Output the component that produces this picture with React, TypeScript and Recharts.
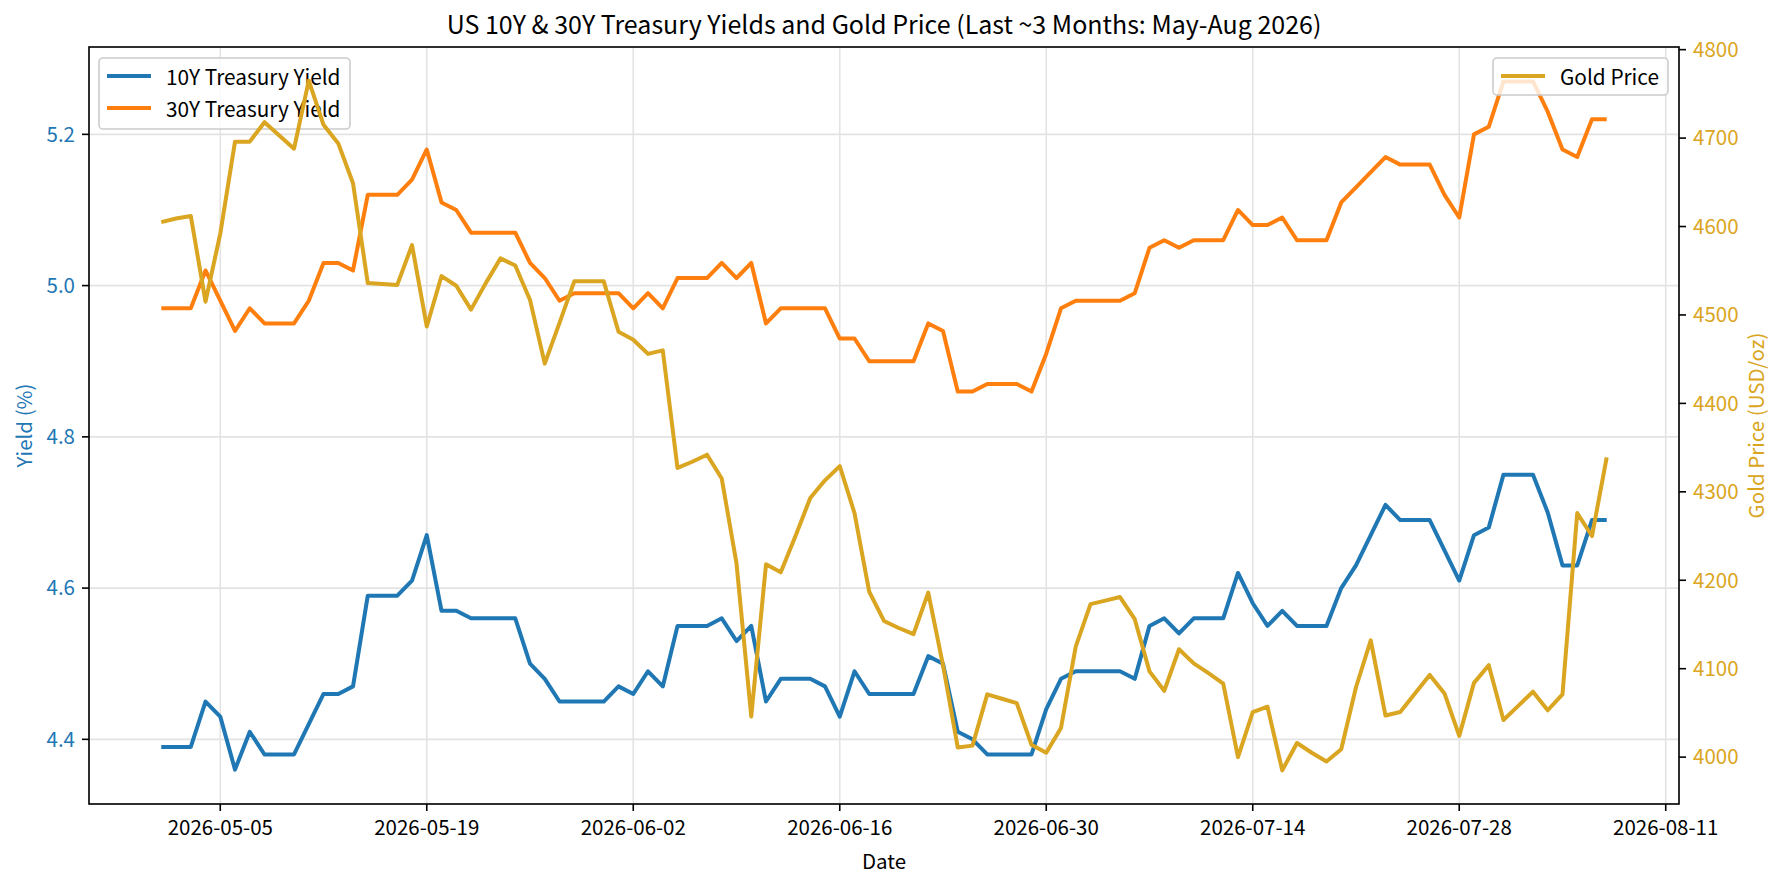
import React from 'react';
import { LineChart, Line, XAxis, YAxis, CartesianGrid } from 'recharts';

const dates = [
  '2026-05-01', '2026-05-02', '2026-05-03', '2026-05-04', '2026-05-05', '2026-05-06', '2026-05-07',
  '2026-05-08', '2026-05-09', '2026-05-10', '2026-05-11', '2026-05-12', '2026-05-13', '2026-05-14',
  '2026-05-15', '2026-05-16', '2026-05-17', '2026-05-18', '2026-05-19', '2026-05-20', '2026-05-21',
  '2026-05-22', '2026-05-23', '2026-05-24', '2026-05-25', '2026-05-26', '2026-05-27', '2026-05-28',
  '2026-05-29', '2026-05-30', '2026-05-31', '2026-06-01', '2026-06-02', '2026-06-03', '2026-06-04',
  '2026-06-05', '2026-06-06', '2026-06-07', '2026-06-08', '2026-06-09', '2026-06-10', '2026-06-11',
  '2026-06-12', '2026-06-13', '2026-06-14', '2026-06-15', '2026-06-16', '2026-06-17', '2026-06-18',
  '2026-06-19', '2026-06-20', '2026-06-21', '2026-06-22', '2026-06-23', '2026-06-24', '2026-06-25',
  '2026-06-26', '2026-06-27', '2026-06-28', '2026-06-29', '2026-06-30', '2026-07-01', '2026-07-02',
  '2026-07-03', '2026-07-04', '2026-07-05', '2026-07-06', '2026-07-07', '2026-07-08', '2026-07-09',
  '2026-07-10', '2026-07-11', '2026-07-12', '2026-07-13', '2026-07-14', '2026-07-15', '2026-07-16',
  '2026-07-17', '2026-07-18', '2026-07-19', '2026-07-20', '2026-07-21', '2026-07-22', '2026-07-23',
  '2026-07-24', '2026-07-25', '2026-07-26', '2026-07-27', '2026-07-28', '2026-07-29', '2026-07-30',
  '2026-07-31', '2026-08-01', '2026-08-02', '2026-08-03', '2026-08-04', '2026-08-05', '2026-08-06',
  '2026-08-07',
];

const yield10Y = [
  4.39, 4.39, 4.39, 4.45, 4.43, 4.36, 4.41,
  4.38, 4.38, 4.38, 4.42, 4.46, 4.46, 4.47,
  4.59, 4.59, 4.59, 4.61, 4.67, 4.57, 4.57,
  4.56, 4.56, 4.56, 4.56, 4.50, 4.48, 4.45,
  4.45, 4.45, 4.45, 4.47, 4.46, 4.49, 4.47,
  4.55, 4.55, 4.55, 4.56, 4.53, 4.55, 4.45,
  4.48, 4.48, 4.48, 4.47, 4.43, 4.49, 4.46,
  4.46, 4.46, 4.46, 4.51, 4.50, 4.41, 4.40,
  4.38, 4.38, 4.38, 4.38, 4.44, 4.48, 4.49,
  4.49, 4.49, 4.49, 4.48, 4.55, 4.56, 4.54,
  4.56, 4.56, 4.56, 4.62, 4.58, 4.55, 4.57,
  4.55, 4.55, 4.55, 4.60, 4.63, 4.67, 4.71,
  4.69, 4.69, 4.69, 4.65, 4.61, 4.67, 4.68,
  4.75, 4.75, 4.75, 4.70, 4.63, 4.63, 4.69,
  4.69,
];

const yield30Y = [
  4.97, 4.97, 4.97, 5.02, 4.98, 4.94, 4.97,
  4.95, 4.95, 4.95, 4.98, 5.03, 5.03, 5.02,
  5.12, 5.12, 5.12, 5.14, 5.18, 5.11, 5.10,
  5.07, 5.07, 5.07, 5.07, 5.03, 5.01, 4.98,
  4.99, 4.99, 4.99, 4.99, 4.97, 4.99, 4.97,
  5.01, 5.01, 5.01, 5.03, 5.01, 5.03, 4.95,
  4.97, 4.97, 4.97, 4.97, 4.93, 4.93, 4.90,
  4.90, 4.90, 4.90, 4.95, 4.94, 4.86, 4.86,
  4.87, 4.87, 4.87, 4.86, 4.91, 4.97, 4.98,
  4.98, 4.98, 4.98, 4.99, 5.05, 5.06, 5.05,
  5.06, 5.06, 5.06, 5.10, 5.08, 5.08, 5.09,
  5.06, 5.06, 5.06, 5.11, 5.13, 5.15, 5.17,
  5.16, 5.16, 5.16, 5.12, 5.09, 5.20, 5.21,
  5.27, 5.27, 5.27, 5.23, 5.18, 5.17, 5.22,
  5.22,
];

const goldPrice = [
  4605, 4609, 4612, 4515, 4592, 4696, 4696,
  4718, 4703, 4688, 4765, 4715, 4694, 4649,
  4536, 4535, 4534, 4579, 4487, 4544, 4533,
  4506, 4536, 4564, 4556, 4517, 4445, 4491,
  4538, 4538, 4538, 4481, 4472, 4456, 4460,
  4327, 4334, 4342, 4315, 4219, 4046, 4218,
  4209, 4250, 4293, 4313, 4329, 4276, 4187,
  4154, 4146, 4139, 4186, 4104, 4011, 4013,
  4071, 4066, 4061, 4014, 4005, 4033, 4125,
  4173, 4177, 4181, 4156, 4097, 4075, 4122,
  4106, 4095, 4083, 4000, 4051, 4057, 3985,
  4016, 4005, 3995, 4009, 4079, 4132, 4047,
  4051, 4072, 4093, 4072, 4024, 4084, 4104,
  4042, 4058, 4074, 4053, 4071, 4276, 4250,
  4339,
];

const xTickLabels = ['2026-05-05', '2026-05-19', '2026-06-02', '2026-06-16', '2026-06-30', '2026-07-14', '2026-07-28', '2026-08-11'];
const yieldTicks = [4.4, 4.6, 4.8, 5.0, 5.2];
const goldTicks = [4000, 4100, 4200, 4300, 4400, 4500, 4600, 4700, 4800];

const FONT = "'Noto Sans CJK SC', 'Noto Sans', sans-serif";
const W = 1784;
const H = 887;
const PLOT = { left: 89, top: 47, right: 1679, bottom: 804 };
const BLUE = '#1f77b4';
const ORANGE = '#ff7f0e';
const GOLD = '#daa520';

const DAY = 86400000;
const t0 = Date.parse(dates[0]);
const dayOf = (d: string) => Math.round((Date.parse(d) - t0) / DAY);
const fmtDay = (v: number) => new Date(t0 + v * DAY).toISOString().slice(0, 10);

const data = dates.map((d, i) => ({
  day: dayOf(d),
  y10: yield10Y[i],
  y30: yield30Y[i],
  gold: goldPrice[i],
}));
const xTicks = xTickLabels.map(dayOf);
const xDomain = [-4.9, 102.9];
const yieldDomain = [4.3145, 5.3155];
const goldDomain = [3947, 4803];

const layer: React.CSSProperties = { position: 'absolute', left: 0, top: 0, width: W, height: H };

const LegendBox = ({ x, y, w, h, items }: { x: number; y: number; w: number; h: number; items: { label: string; color: string }[] }) => (
  <svg style={{ ...layer, pointerEvents: 'none' }} width={W} height={H}>
    <rect x={x} y={y} width={w} height={h} rx={4} fill="#fff" fillOpacity={0.8} stroke="#cccccc" strokeWidth={1.6} />
    {items.map((it, i) => (
      <g key={it.label}>
        <line x1={x + 8} x2={x + 52} y1={y + 18 + i * 32} y2={y + 18 + i * 32} stroke={it.color} strokeWidth={4} />
        <text x={x + 67} y={y + 18 + i * 32} dominantBaseline="central" fontSize={20.8} fontFamily={FONT} fill="#000">
          {it.label}
        </text>
      </g>
    ))}
  </svg>
);

export default function App() {
  const tickLine = { stroke: '#000', strokeWidth: 1.6 };
  return (
    <div style={{ ...layer, background: '#fff', overflow: 'hidden' }}>
      {/* bottom layer: grid, axes and the two yield lines */}
      <div style={layer}>
        <LineChart width={W} height={H} data={data} margin={{ top: PLOT.top, right: 0, bottom: 0, left: 0 }}>
          <CartesianGrid yAxisId="left" stroke="#e3e3e3" strokeWidth={1.6} />
          <XAxis
            dataKey="day"
            type="number"
            domain={xDomain}
            ticks={xTicks}
            interval={0}
            tickFormatter={fmtDay}
            height={H - PLOT.bottom}
            tickSize={7}
            tickMargin={9}
            axisLine={false}
            tickLine={tickLine}
            tick={{ fill: '#000', fontSize: 20.5, fontFamily: FONT }}
          />
          <YAxis
            yAxisId="left"
            domain={yieldDomain}
            ticks={yieldTicks}
            interval={0}
            allowDataOverflow
            width={PLOT.left}
            tickSize={7}
            tickMargin={7}
            axisLine={false}
            tickLine={tickLine}
            tickFormatter={(v: number) => v.toFixed(1)}
            tick={{ fill: BLUE, fontSize: 20.5, fontFamily: FONT }}
          />
          <YAxis
            yAxisId="right"
            orientation="right"
            domain={goldDomain}
            ticks={goldTicks}
            interval={0}
            allowDataOverflow
            width={W - PLOT.right}
            tickSize={7}
            tickMargin={7}
            axisLine={false}
            tickLine={tickLine}
            tick={{ fill: GOLD, fontSize: 20.5, fontFamily: FONT }}
          />
          <Line yAxisId="left" type="linear" dataKey="y10" name="10Y Treasury Yield" stroke={BLUE} strokeWidth={4} dot={false} activeDot={false} isAnimationActive={false} strokeLinejoin="round" />
          <Line yAxisId="left" type="linear" dataKey="y30" name="30Y Treasury Yield" stroke={ORANGE} strokeWidth={4} dot={false} activeDot={false} isAnimationActive={false} strokeLinejoin="round" />
          <Line yAxisId="right" type="linear" dataKey="gold" stroke="none" dot={false} activeDot={false} isAnimationActive={false} />
        </LineChart>
      </div>

      <LegendBox
        x={99}
        y={58}
        w={251}
        h={71}
        items={[
          { label: '10Y Treasury Yield', color: BLUE },
          { label: '30Y Treasury Yield', color: ORANGE },
        ]}
      />

      {/* twin axis layer: gold drawn above the first legend */}
      <div style={layer}>
        <LineChart
          width={W}
          height={H}
          data={data}
          margin={{ top: PLOT.top, right: W - PLOT.right, bottom: H - PLOT.bottom, left: PLOT.left }}
        >
          <XAxis dataKey="day" type="number" domain={xDomain} hide />
          <YAxis yAxisId="right" orientation="right" domain={goldDomain} allowDataOverflow hide />
          <Line yAxisId="right" type="linear" dataKey="gold" name="Gold Price" stroke={GOLD} strokeWidth={4} dot={false} activeDot={false} isAnimationActive={false} strokeLinejoin="round" />
        </LineChart>
      </div>

      <LegendBox x={1493} y={58} w={175} h={37} items={[{ label: 'Gold Price', color: GOLD }]} />

      <svg style={{ ...layer, pointerEvents: 'none' }} width={W} height={H}>
        <rect
          x={PLOT.left}
          y={PLOT.top}
          width={PLOT.right - PLOT.left}
          height={PLOT.bottom - PLOT.top}
          fill="none"
          stroke="#000"
          strokeWidth={1.6}
        />
        <text x={(PLOT.left + PLOT.right) / 2} y={34} textAnchor="middle" fontSize={25} fontFamily={FONT} fill="#000">
          US 10Y &amp; 30Y Treasury Yields and Gold Price (Last ~3 Months: May-Aug 2026)
        </text>
        <text x={(PLOT.left + PLOT.right) / 2} y={869} textAnchor="middle" fontSize={20.5} fontFamily={FONT} fill="#000">
          Date
        </text>
        <text
          transform={`translate(32, ${(PLOT.top + PLOT.bottom) / 2}) rotate(-90)`}
          textAnchor="middle"
          fontSize={20.5}
          fontFamily={FONT}
          fill={BLUE}
        >
          Yield (%)
        </text>
        <text
          transform={`translate(1764, ${(PLOT.top + PLOT.bottom) / 2}) rotate(-90)`}
          textAnchor="middle"
          fontSize={20.5}
          fontFamily={FONT}
          fill={GOLD}
        >
          Gold Price (USD/oz)
        </text>
      </svg>
    </div>
  );
}
